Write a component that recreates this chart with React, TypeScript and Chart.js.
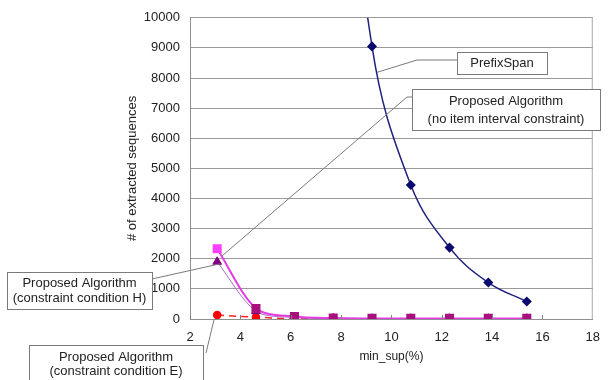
import React, { useEffect, useRef } from 'react';
import { Chart, registerables } from 'chart.js';

Chart.register(...registerables);

// ---- data ----
const minSup = [3.08, 4.62, 6.15, 7.69, 9.23, 10.77, 12.31, 13.85, 15.38];
const prefixSpan = [null, null, null, 21000, 9050, 4450, 2370, 1210, 580];
const noItemInterval = [2330, 350, 80, 30, 20, 20, 20, 20, 20];
const conditionH = [1900, 260, 50, 20, 10, 10, 10, 10, 10];
const conditionE = [130, 60, 10, 5, 5, 5, 5, 5, 5];

const xTicks = [2, 4, 6, 8, 10, 12, 14, 16, 18];
const yTicks = [0, 1000, 2000, 3000, 4000, 5000, 6000, 7000, 8000, 9000, 10000];

const xTitle = 'min_sup(%)';
const yTitle = '# of extracted sequences';

const seriesNames = [
  'Proposed Algorithm (no item interval constraint)',
  'Proposed Algorithm (constraint condition H)',
  'Proposed Algorithm (constraint condition E)',
  'PrefixSpan',
];

const calloutPrefix = ['PrefixSpan'];
const calloutNoItem = ['Proposed Algorithm', '(no item interval constraint)'];
const calloutH = ['Proposed Algorithm', '(constraint condition H)'];
const calloutE = ['Proposed Algorithm', '(constraint condition E)'];

const FONT = '"Liberation Sans", Arial, sans-serif';

const toPts = (vals: (number | null)[]) =>
  minSup.map((x, i) => ({ x, y: vals[i] }));

const calloutPlugin = {
  id: 'callouts',
  afterDraw(chart: any) {
    const { ctx, chartArea: a } = chart;
    const xs = chart.scales.x;
    const ys = chart.scales.y;
    const px = (x: number, y: number) => [xs.getPixelForValue(x), ys.getPixelForValue(y)];
    ctx.save();
    // right border of plot
    ctx.strokeStyle = '#a8a8a8';
    ctx.lineWidth = 1;
    ctx.beginPath();
    ctx.moveTo(a.right - 0.5, a.top);
    ctx.lineTo(a.right - 0.5, a.bottom);
    ctx.stroke();
    // inside ticks on x axis
    ctx.strokeStyle = '#808080';
    ctx.beginPath();
    for (const t of xs.ticks) {
      const p = Math.round(xs.getPixelForValue(t.value)) + 0.5;
      if (p > a.right - 2) continue;
      ctx.moveTo(p, a.bottom);
      ctx.lineTo(p, a.bottom - 4);
    }
    ctx.stroke();

    const leader = (pts: number[][]) => {
      ctx.strokeStyle = '#7a7a7a';
      ctx.lineWidth = 1;
      ctx.beginPath();
      ctx.moveTo(pts[0][0], pts[0][1]);
      for (let i = 1; i < pts.length; i++) ctx.lineTo(pts[i][0], pts[i][1]);
      ctx.stroke();
    };
    const box = (bx: number, by: number, bw: number, bh: number, lines: string[], ly: number[]) => {
      ctx.fillStyle = '#ffffff';
      ctx.fillRect(bx, by, bw, bh);
      ctx.strokeStyle = '#7a7a7a';
      ctx.lineWidth = 1;
      ctx.strokeRect(bx + 0.5, by + 0.5, bw, bh);
      ctx.fillStyle = '#222222';
      ctx.font = '13px ' + FONT;
      ctx.textAlign = 'center';
      ctx.textBaseline = 'middle';
      lines.forEach((s, i) => ctx.fillText(s, bx + bw / 2, by + ly[i]));
    };

    // PrefixSpan
    const p1 = px(9.43, 8190);
    leader([p1, [417, 60], [457, 60]]);
    box(457, 52, 90, 22, calloutPrefix, [11]);

    // no item interval constraint
    const p2 = px(minSup[0], noItemInterval[0]);
    leader([[p2[0] + 5, p2[1] + 7], [407, 97], [412, 97]]);
    box(412, 89, 188, 41, calloutNoItem, [12, 30]);

    // condition H
    const p3 = px(minSup[0], conditionH[0]);
    leader([[p3[0] + 3, p3[1] + 2], [152, 279]]);
    box(7, 272, 145, 37, calloutH, [11, 26]);

    // condition E
    const p4 = px(minSup[0], conditionE[0]);
    leader([[p4[0] - 3, p4[1] + 4], [206, 353]]);
    box(29, 345, 174, 45, calloutE, [12, 26]);

    ctx.restore();
  },
};

export default function App() {
  const ref = useRef<HTMLCanvasElement | null>(null);
  useEffect(() => {
    if (!ref.current) return;
    const chart = new Chart(ref.current, {
      type: 'line',
      data: {
        datasets: [
          {
            label: seriesNames[0],
            data: toPts(noItemInterval),
            borderColor: '#e23ce2',
            borderWidth: 2,
            pointStyle: 'rect',
            pointRadius: 5,
            pointBackgroundColor: (c: any) => (c.dataIndex === 0 ? '#ff40ff' : '#a8107e'),
            pointBorderColor: (c: any) => (c.dataIndex === 0 ? '#ff40ff' : '#a8107e'),
            tension: 0.3,
          },
          {
            label: seriesNames[1],
            data: toPts(conditionH),
            borderColor: '#a470c4',
            borderWidth: 1,
            pointStyle: 'triangle',
            pointRadius: 5,
            pointBackgroundColor: '#800080',
            pointBorderColor: '#800080',
            tension: 0.3,
          },
          {
            label: seriesNames[2],
            data: toPts(conditionE),
            borderColor: '#ff2020',
            borderWidth: 1.5,
            borderDash: [7, 5],
            pointStyle: 'circle',
            pointRadius: 3.5,
            pointBackgroundColor: '#ff0000',
            pointBorderColor: '#ff0000',
            tension: 0.3,
          },
          {
            label: seriesNames[3],
            data: toPts(prefixSpan),
            borderColor: '#22227e',
            borderWidth: 1.5,
            pointStyle: 'rectRot',
            pointRadius: 4,
            pointBackgroundColor: '#0a0a6e',
            pointBorderColor: '#0a0a6e',
            tension: 0.4,
          },
        ],
      },
      options: {
        animation: false,
        responsive: false,
        devicePixelRatio: 1,
        layout: { padding: { left: 0, right: 8, top: 15, bottom: 0 } },
        plugins: { legend: { display: false }, tooltip: { enabled: false } },
        elements: { line: { capBezierPoints: false } as any },
        scales: {
          x: {
            type: 'linear',
            min: xTicks[0],
            max: xTicks[xTicks.length - 1],
            afterBuildTicks: (s: any) => {
              s.ticks = xTicks.map((v) => ({ value: v }));
            },
            afterFit: (s: any) => {
              s.height = 61;
            },
            grid: { drawOnChartArea: false, drawTicks: false },
            border: { display: true, color: '#909090' },
            ticks: {
              padding: 11,
              color: '#222',
              font: { family: FONT, size: 13 },
              maxRotation: 0,
              callback: (v: any) => String(v),
            },
            title: {
              display: true,
              text: xTitle,
              color: '#222',
              font: { family: FONT, size: 12 },
              padding: { top: 0, bottom: 16 },
            },
          },
          y: {
            type: 'linear',
            min: yTicks[0],
            max: yTicks[yTicks.length - 1],
            afterBuildTicks: (s: any) => {
              s.ticks = yTicks.map((v) => ({ value: v }));
            },
            afterFit: (s: any) => {
              s.width = 190;
            },
            grid: { color: '#9a9a9a', drawTicks: false },
            border: { display: true, color: '#909090' },
            ticks: {
              padding: 10,
              color: '#222',
              font: { family: FONT, size: 13 },
              callback: (v: any) => String(v),
            },
            title: {
              display: true,
              text: yTitle,
              color: '#222',
              font: { family: FONT, size: 13 },
              padding: { top: 125, bottom: 0 },
            },
          },
        },
      },
      plugins: [calloutPlugin],
    });
    return () => chart.destroy();
  }, []);
  return (
    <div style={{ position: 'absolute', left: 0, top: 0, width: 611, height: 380, background: '#fff' }}>
      <canvas ref={ref} width={611} height={380} />
    </div>
  );
}
